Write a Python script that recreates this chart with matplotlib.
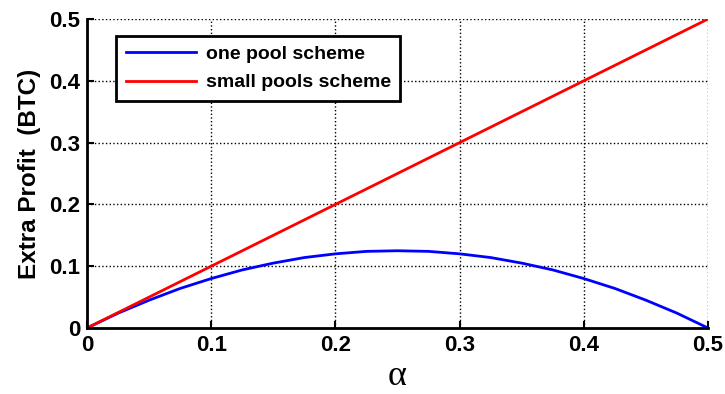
import matplotlib
matplotlib.use('Agg')
import matplotlib.pyplot as plt

# extra profit vs. alpha for the two schemes
alpha = [0, 0.025, 0.05, 0.075, 0.1, 0.125, 0.15, 0.175, 0.2, 0.225, 0.25,
         0.275, 0.3, 0.325, 0.35, 0.375, 0.4, 0.425, 0.45, 0.475, 0.5]
one_pool = [0, 0.024, 0.045, 0.064, 0.080, 0.094, 0.105, 0.114, 0.120, 0.124, 0.125,
            0.124, 0.120, 0.114, 0.105, 0.094, 0.080, 0.064, 0.045, 0.024, 0]
small_pools = [0, 0.5]
small_alpha = [0, 0.5]
ticks = [0, 0.1, 0.2, 0.3, 0.4, 0.5]
tick_labels = ['0', '0.1', '0.2', '0.3', '0.4', '0.5']

plt.rcParams['font.family'] = ['Liberation Sans', 'DejaVu Sans']
plt.rcParams['font.weight'] = 'bold'

fig = plt.figure(figsize=(7.25, 3.94), dpi=100)
ax = fig.add_axes([0.12, 0.1675, 0.8566, 0.7843])

ax.plot(alpha, one_pool, color='blue', lw=2, label='one pool scheme')
ax.plot(small_alpha, small_pools, color='red', lw=2, label='small pools scheme')

ax.set_xlim(0, 0.5)
ax.set_ylim(0, 0.5)
ax.set_xticks(ticks)
ax.set_xticklabels(tick_labels)
ax.set_yticks(ticks)
ax.set_yticklabels(tick_labels)
ax.tick_params(direction='in', length=5, width=1.5, labelsize=16, pad=5)
ax.grid(True, linestyle=':', color='black', lw=1)

for s in ['top', 'right']:
    ax.spines[s].set_visible(False)
for s in ['left', 'bottom']:
    ax.spines[s].set_linewidth(2)

ax.set_ylabel('Extra Profit  (BTC)', fontsize=17.5, fontweight='bold', labelpad=6)
ax.set_xlabel('α', fontsize=26, family=['Liberation Serif', 'DejaVu Serif'],
              fontweight='normal', labelpad=3)

leg = ax.legend(loc='upper left', bbox_to_anchor=(0.047, 0.946), fontsize=14,
                fancybox=False, framealpha=1, edgecolor='black',
                handlelength=3.6, handletextpad=0.5, borderpad=0.5,
                labelspacing=0.55, borderaxespad=0)
leg.get_frame().set_linewidth(2)

fig.savefig('out.png', dpi=100)
